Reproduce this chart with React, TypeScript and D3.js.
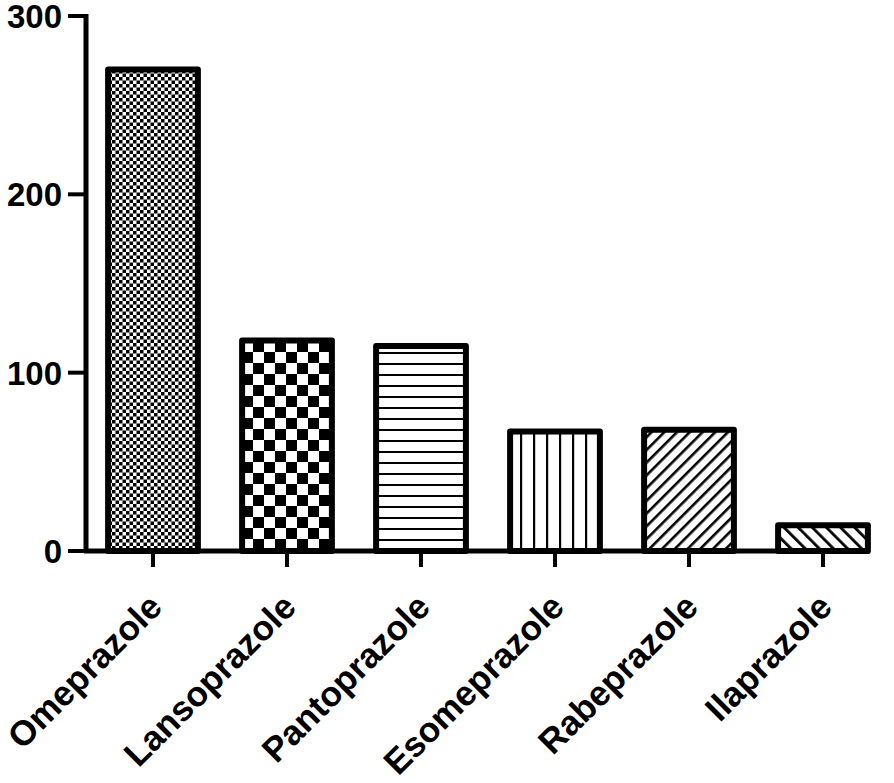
import React from "react";
import * as d3 from "d3";

const categories = ["Omeprazole", "Lansoprazole", "Pantoprazole", "Esomeprazole", "Rabeprazole", "Ilaprazole"];
const values = [270, 118, 115, 67, 68, 14.5];
const yTicks = [0, 100, 200, 300];
const patterns = ["fineCheck", "bigCheck", "hLines", "vLines", "diagUp", "diagDown"];

const W = 894, H = 783;

export default function App() {
  const x = d3.scaleBand<string>().domain(categories).range([86, 890]).paddingInner(0.33).paddingOuter(0.165);
  const y = d3.scaleLinear().domain([0, 300]).range([551, 16]);
  const font = "Arial, 'Liberation Sans', sans-serif";
  return (
    <svg width={W} height={H} style={{ position: "absolute", left: 0, top: 0, background: "#fff" }}>
      <defs>
        <pattern id="fineCheck" width={7} height={7} patternUnits="userSpaceOnUse">
          <rect width={7} height={7} fill="#fff" />
          <rect x={0} y={0} width={3.5} height={3.5} fill="#000" />
          <rect x={3.5} y={3.5} width={3.5} height={3.5} fill="#000" />
        </pattern>
        <pattern id="bigCheck" width={22} height={22} patternUnits="userSpaceOnUse">
          <rect width={22} height={22} fill="#fff" />
          <rect x={0} y={0} width={11} height={11} fill="#000" />
          <rect x={11} y={11} width={11} height={11} fill="#000" />
        </pattern>
        <pattern id="hLines" width={10} height={11} patternUnits="userSpaceOnUse">
          <rect width={10} height={11} fill="#fff" />
          <rect x={0} y={0} width={10} height={2} fill="#000" />
        </pattern>
        <pattern id="vLines" width={13} height={10} patternUnits="userSpaceOnUse">
          <rect width={13} height={10} fill="#fff" />
          <rect x={0} y={0} width={2.2} height={10} fill="#000" />
        </pattern>
        <pattern id="diagUp" width={9} height={9} patternUnits="userSpaceOnUse" patternTransform="rotate(45)">
          <rect width={9} height={9} fill="#fff" />
          <rect x={0} y={0} width={2.6} height={9} fill="#000" />
        </pattern>
        <pattern id="diagDown" width={10} height={10} patternUnits="userSpaceOnUse" patternTransform="rotate(-45)">
          <rect width={10} height={10} fill="#fff" />
          <rect x={0} y={0} width={2.8} height={10} fill="#000" />
        </pattern>
      </defs>
      {categories.map((c, i) => (
        <rect key={c} x={x(c)} y={y(values[i])} width={x.bandwidth()} height={y(0) - y(values[i])}
          fill={`url(#${patterns[i]})`} stroke="#000" strokeWidth={6} strokeLinejoin="round" />
      ))}
      {/* y axis */}
      <line x1={86} x2={86} y1={y(300) - 2} y2={y(0) + 2} stroke="#000" strokeWidth={5} />
      {yTicks.map((t) => (
        <g key={t}>
          <line x1={68} x2={86} y1={y(t)} y2={y(t)} stroke="#000" strokeWidth={4} />
          <text x={62} y={y(t)} dy="0.36em" textAnchor="end" fontFamily={font} fontWeight="bold" fontSize={33} fill="#000">{t}</text>
        </g>
      ))}
      {/* x axis */}
      <line x1={84} x2={870} y1={y(0)} y2={y(0)} stroke="#000" strokeWidth={5} />
      {categories.map((c) => {
        const cx = (x(c) as number) + x.bandwidth() / 2;
        return (
          <g key={c}>
            <line x1={cx} x2={cx} y1={y(0)} y2={567} stroke="#000" strokeWidth={4} />
            <text transform={`translate(${cx + 11},${609}) rotate(-45)`} textAnchor="end" fontFamily={font} fontWeight="bold" fontSize={35} fill="#000">{c}</text>
          </g>
        );
      })}
    </svg>
  );
}
